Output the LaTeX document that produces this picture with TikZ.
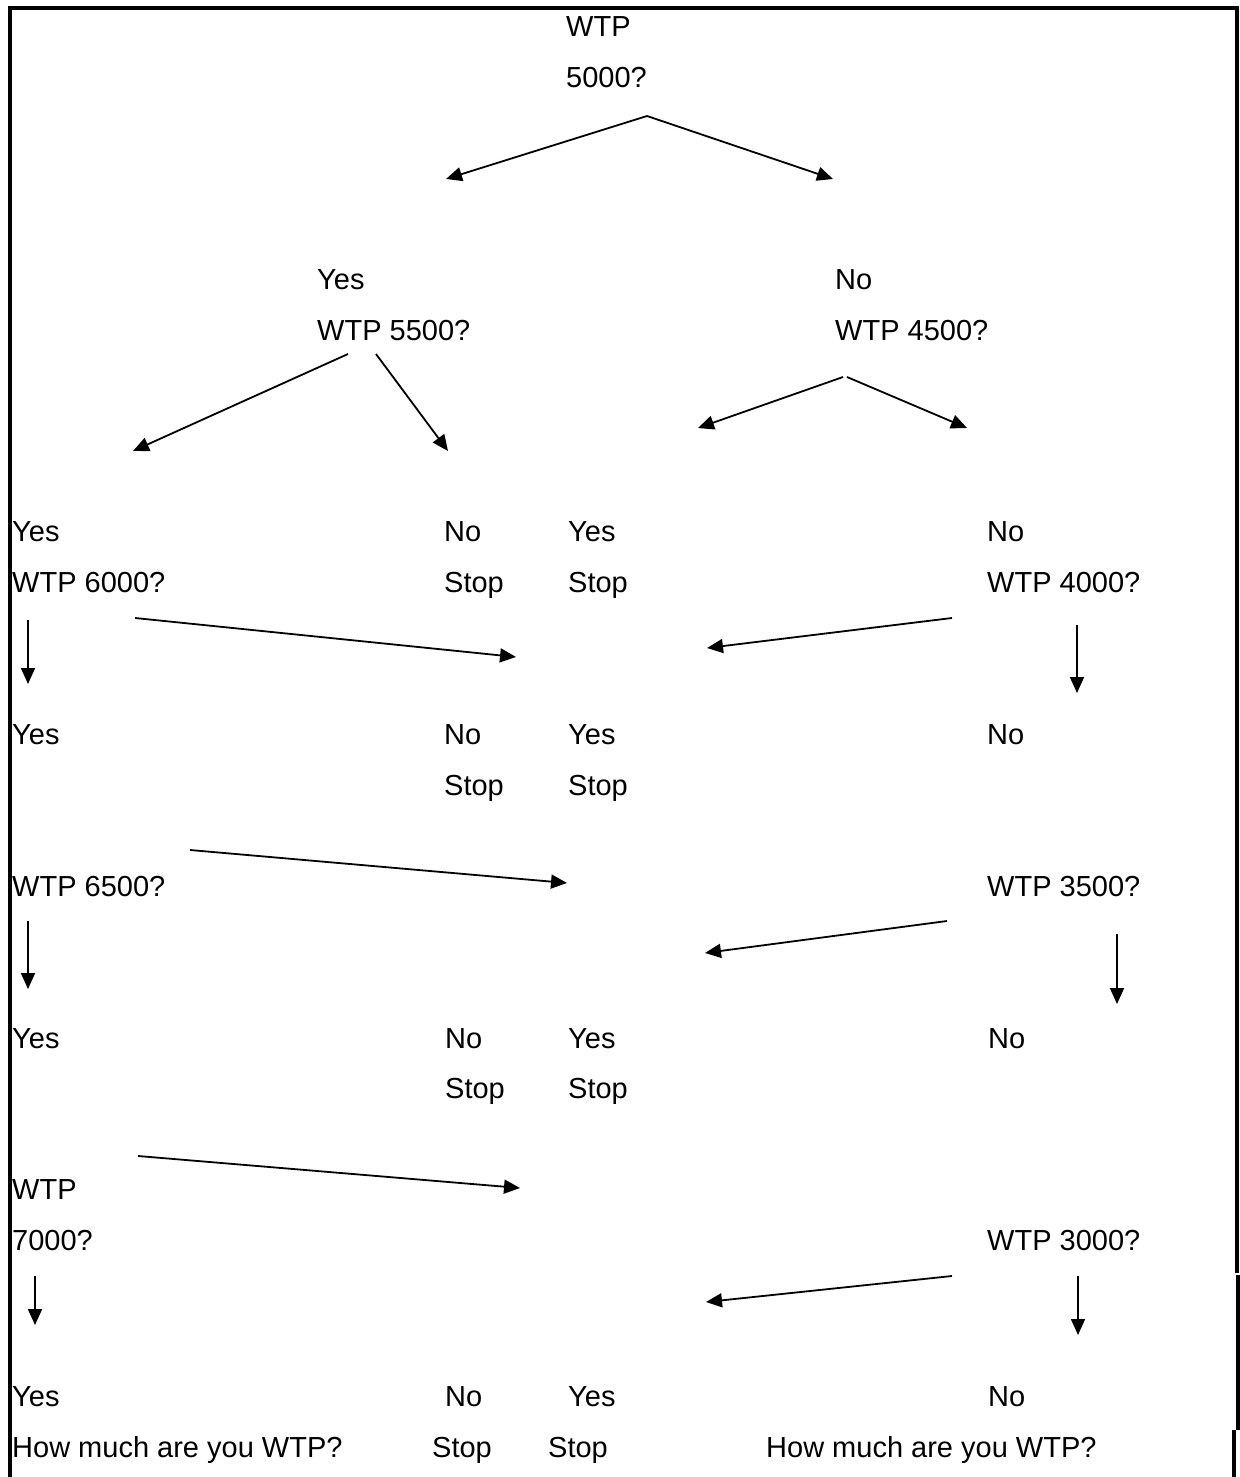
\documentclass[tikz,border=0pt]{standalone}
\usepackage{fontspec}
\setmainfont{Liberation Sans}
\usetikzlibrary{arrows.meta}
\begin{document}
\begin{tikzpicture}[x=1pt,y=-1pt,
  txt/.style={anchor=base west,inner sep=0pt,font=\fontsize{29}{35}\selectfont},
  arr/.style={line width=1.8pt,-{Triangle[length=16pt,width=14pt]}},
  frame/.style={line width=3.2pt}]
\useasboundingbox (0,0) rectangle (1239,1477);
% frame
\draw[frame] (10,1477) -- (10,8) -- (1237,8) -- (1237,1273);
\draw[frame] (1238,1275) -- (1238,1430);
\draw[frame] (1234,1430) -- (1234,1477);
% texts
\node[txt] (t1) at (566,37) {WTP};
\node[txt] (t2) at (566,88) {5000?};
\node[txt] (y1) at (317,289) {Yes};
\node[txt] (q55) at (317,340) {WTP 5500?};
\node[txt] (n1) at (835,289) {No};
\node[txt] (q45) at (835,340) {WTP 4500?};
% row 3
\node[txt] (y2) at (12,541) {Yes};
\node[txt] (q60) at (12,592) {WTP 6000?};
\node[txt] (n2) at (444,541) {No};
\node[txt] (s2) at (444,592) {Stop};
\node[txt] (y3) at (568,541) {Yes};
\node[txt] (s3) at (568,592) {Stop};
\node[txt] (n3) at (987,541) {No};
\node[txt] (q40) at (987,592) {WTP 4000?};
% row 4
\node[txt] (y4) at (12,744) {Yes};
\node[txt] (n4) at (444,744) {No};
\node[txt] (s4) at (444,795) {Stop};
\node[txt] (y5) at (568,744) {Yes};
\node[txt] (s5) at (568,795) {Stop};
\node[txt] (n5) at (987,744) {No};
\node[txt] (q65) at (12,896) {WTP 6500?};
\node[txt] (q35) at (987,896) {WTP 3500?};
% row 6
\node[txt] (y6) at (12,1048) {Yes};
\node[txt] (n6) at (445,1048) {No};
\node[txt] (s6) at (445,1098) {Stop};
\node[txt] (y7) at (568,1048) {Yes};
\node[txt] (s7) at (568,1098) {Stop};
\node[txt] (n7) at (988,1048) {No};
\node[txt] (q70a) at (12,1199) {WTP};
\node[txt] (q70b) at (12,1250) {7000?};
\node[txt] (q30) at (987,1250) {WTP 3000?};
% final row
\node[txt] (y8) at (12,1406) {Yes};
\node[txt] (h1) at (12,1457) {How much are you WTP?};
\node[txt] (n8) at (445,1406) {No};
\node[txt] (s8) at (432,1457) {Stop};
\node[txt] (y9) at (568,1406) {Yes};
\node[txt] (s9) at (548,1457) {Stop};
\node[txt] (n9) at (988,1406) {No};
\node[txt] (h2) at (766,1457) {How much are you WTP?};
% arrow end points
\coordinate (a0) at (647,116);
\coordinate (a1) at (446,179);
\coordinate (a2) at (833,179);
\coordinate (b0) at (348,354);
\coordinate (b1) at (133,451);
\coordinate (b2) at (376,354);
\coordinate (b3) at (448,451);
\coordinate (c0) at (843,377);
\coordinate (c1) at (698,428);
\coordinate (c2) at (847,377);
\coordinate (c3) at (967,428);
\coordinate (d0) at (28,620);
\coordinate (d1) at (28,684);
\coordinate (e0) at (135,618);
\coordinate (e1) at (516,657);
\coordinate (f0) at (952,618);
\coordinate (f1) at (707,648);
\coordinate (g0) at (1077,625);
\coordinate (g1) at (1077,693);
\coordinate (h0) at (190,850);
\coordinate (hh1) at (567,883);
\coordinate (i0) at (947,921);
\coordinate (i1) at (705,953);
\coordinate (j0) at (28,921);
\coordinate (j1) at (28,989);
\coordinate (k0) at (1117,934);
\coordinate (k1) at (1117,1004);
\coordinate (l0) at (138,1156);
\coordinate (l1) at (520,1188);
\coordinate (m0) at (952,1276);
\coordinate (m1) at (706,1302);
\coordinate (o0) at (35,1276);
\coordinate (o1) at (35,1325);
\coordinate (p0) at (1078,1276);
\coordinate (p1) at (1078,1335);
% arrows
\draw[arr] (a0) -- (a1);
\draw[arr] (a0) -- (a2);
\draw[arr] (b0) -- (b1);
\draw[arr] (b2) -- (b3);
\draw[arr] (c0) -- (c1);
\draw[arr] (c2) -- (c3);
\draw[arr] (d0) -- (d1);
\draw[arr] (e0) -- (e1);
\draw[arr] (f0) -- (f1);
\draw[arr] (g0) -- (g1);
\draw[arr] (h0) -- (hh1);
\draw[arr] (i0) -- (i1);
\draw[arr] (j0) -- (j1);
\draw[arr] (k0) -- (k1);
\draw[arr] (l0) -- (l1);
\draw[arr] (m0) -- (m1);
\draw[arr] (o0) -- (o1);
\draw[arr] (p0) -- (p1);
\end{tikzpicture}
\end{document}
